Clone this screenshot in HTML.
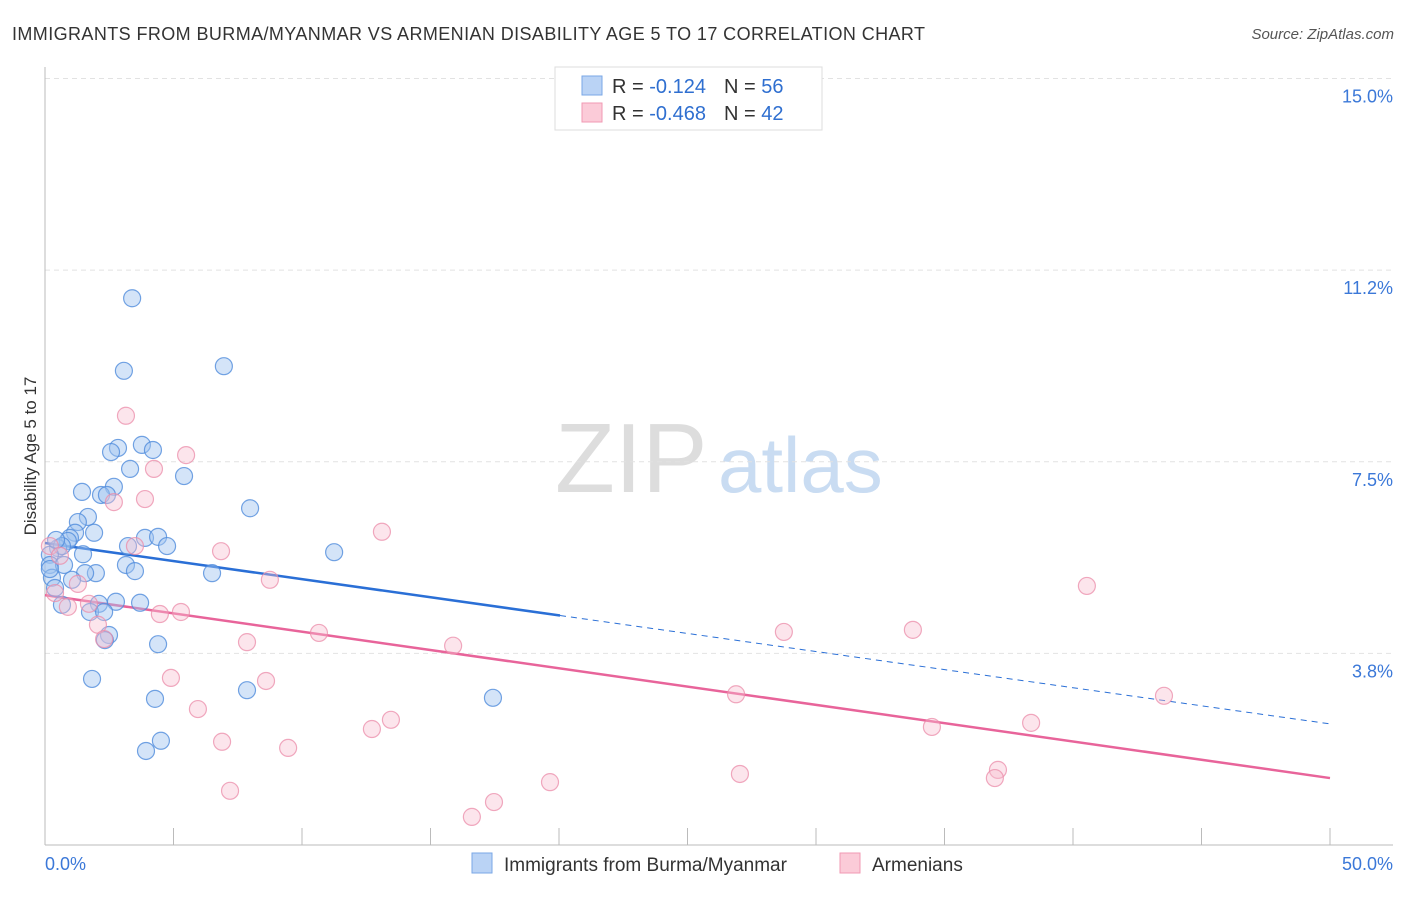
<!DOCTYPE html>
<html><head><meta charset="utf-8"><style>
body{margin:0;background:#fff;font-family:"Liberation Sans",sans-serif;}
svg text{font-family:"Liberation Sans",sans-serif;}
</style></head><body>
<svg id="chart" width="1406" height="892" viewBox="0 0 1406 892">
<text x="12" y="40" font-size="18" fill="#333" textLength="913" lengthAdjust="spacing">IMMIGRANTS FROM BURMA/MYANMAR VS ARMENIAN DISABILITY AGE 5 TO 17 CORRELATION CHART</text>
<text x="1394" y="39" font-size="15" fill="#555" font-style="italic" text-anchor="end">Source: ZipAtlas.com</text>
<text x="36" y="456" font-size="17" fill="#333" text-anchor="middle" transform="rotate(-90 36 456)">Disability Age 5 to 17</text>
<text x="555" y="492" font-size="98" fill="#ddd" font-family="Liberation Serif">ZIP</text>
<text x="718" y="492" font-size="78" fill="#c9dcf2">atlas</text>
<g id="grid"></g>
<g id="axes"></g>
<g id="trends"></g>
<g id="points"></g>
<g>
<rect x="555" y="67" width="267" height="63" fill="#fff" stroke="#ddd"/>
<rect x="582" y="76" width="20" height="19" fill="#bad3f5" stroke="#7aa7e6"/>
<rect x="582" y="103" width="20" height="19" fill="#fbcbd8" stroke="#f09ab3"/>
<text x="612" y="93" font-size="20" fill="#333">R = <tspan fill="#2f6fd0"> -0.124</tspan><tspan dx="18">N = </tspan><tspan fill="#2f6fd0">56</tspan></text>
<text x="612" y="120" font-size="20" fill="#333">R = <tspan fill="#2f6fd0">-0.468</tspan><tspan dx="18">N = </tspan><tspan fill="#2f6fd0">42</tspan></text>
</g>
<g>
<rect x="472" y="853" width="20" height="20" fill="#bad3f5" stroke="#7aa7e6"/>
<text x="504" y="871" font-size="19" fill="#333">Immigrants from Burma/Myanmar</text>
<rect x="840" y="853" width="20" height="20" fill="#fbcbd8" stroke="#f09ab3"/>
<text x="872" y="871" font-size="19" fill="#333">Armenians</text>
</g>
</svg>
<script>
const yTicks=[3.75,7.5,11.25,15];
const yTickLabels=["3.8%","7.5%","11.2%","15.0%"];
const xTickLabels=["0.0%","50.0%"];
const blueX=[3.39,3.07,6.96,3.77,2.84,2.57,4.20,3.31,5.41,2.68,1.44,2.18,2.41,7.98,1.67,1.28,1.17,0.97,0.89,1.91,3.89,4.40,4.75,3.23,0.51,0.66,1.48,11.25,0.19,0.19,0.74,3.15,3.50,1.98,1.56,6.50,0.27,1.05,0.39,0.66,2.10,2.76,3.70,1.75,2.30,2.49,2.33,4.40,1.83,7.86,4.28,17.43,4.51,3.93,0.19,0.43];
const blueY=[10.70,9.28,9.37,7.83,7.77,7.69,7.73,7.36,7.22,7.01,6.91,6.85,6.85,6.59,6.42,6.32,6.11,6.01,5.95,6.11,6.01,6.03,5.85,5.85,5.81,5.85,5.69,5.73,5.68,5.48,5.48,5.48,5.36,5.32,5.32,5.32,5.23,5.19,5.03,4.70,4.72,4.76,4.74,4.56,4.56,4.11,4.01,3.93,3.25,3.03,2.86,2.88,2.04,1.84,5.40,5.97];
const pinkX=[3.15,5.49,4.24,3.89,2.68,13.11,6.85,3.50,0.19,0.58,8.75,40.54,1.28,0.39,1.71,0.89,5.29,4.47,2.06,2.30,10.66,7.86,15.88,28.75,33.77,4.90,8.60,26.89,43.54,5.95,13.46,12.72,34.51,38.37,6.89,9.46,27.04,19.65,37.08,36.96,7.20,17.47,16.61];
const pinkY=[8.40,7.63,7.36,6.77,6.71,6.13,5.75,5.85,5.85,5.66,5.19,5.07,5.11,4.93,4.72,4.66,4.56,4.52,4.31,4.03,4.15,3.97,3.90,4.17,4.21,3.27,3.21,2.95,2.92,2.66,2.45,2.27,2.31,2.39,2.02,1.90,1.39,1.23,1.47,1.31,1.06,0.84,0.55];
const blueTrend=[5.91,2.37]; const blueSolidEnd=20.04;
const pinkTrend=[4.89,1.31];
const NS="http://www.w3.org/2000/svg";
const sx=v=>45+v*25.7, sy=v=>845-v*51.1;
function mk(tag,attrs,parent){const e=document.createElementNS(NS,tag);for(const k in attrs)e.setAttribute(k,attrs[k]);parent.appendChild(e);return e;}
const grid=document.getElementById('grid'),axes=document.getElementById('axes'),trends=document.getElementById('trends'),pts=document.getElementById('points');
yTicks.forEach((t,i)=>{
 const l=mk('line',{x1:45,x2:1393,y1:sy(t),y2:sy(t),stroke:'#e2e2e2','stroke-dasharray':'5,4'},grid);
 
 
 const tx=mk('text',{x:1393,y:sy(t)+24,'font-size':18,fill:'#3b78d8','text-anchor':'end'},grid);
 tx.textContent=yTickLabels[i];
 
 
});
const ya=mk('line',{x1:45,x2:45,y1:67,y2:845,stroke:'#bbb'},axes);


const xa=mk('line',{x1:45,x2:1393,y1:845,y2:845,stroke:'#bbb'},axes);


for(let i=0;i<=10;i++){
 const t=mk('line',{x1:sx(i*5),x2:sx(i*5),y1:828,y2:845,stroke:'#bbb'},axes);
 
 
}
[[0,'start',45],[50,'end',1393]].forEach((d,i)=>{
 const tx=mk('text',{x:d[2],y:870,'font-size':18,fill:'#3b78d8','text-anchor':d[1]},axes);
 tx.textContent=xTickLabels[i];
 
 
});
function draw(xs,ys,fill,stroke,name){
 xs.forEach((x,i)=>{
  const c=mk('circle',{cx:sx(x),cy:sy(ys[i]),r:8.5,fill:fill,stroke:stroke,'stroke-width':1.2},pts);
  
  
 });
}
draw(blueX,blueY,'rgba(160,195,240,0.45)','rgba(80,140,220,0.8)','burma-point');
draw(pinkX,pinkY,'rgba(248,190,208,0.4)','rgba(235,140,170,0.75)','armenian-point');
const by=x=>blueTrend[0]+(blueTrend[1]-blueTrend[0])*x/50;
const b1=mk('line',{x1:sx(0),y1:sy(by(0)),x2:sx(blueSolidEnd),y2:sy(by(blueSolidEnd)),stroke:'#2a6fd6','stroke-width':2.5},trends);


const b2=mk('line',{x1:sx(blueSolidEnd),y1:sy(by(blueSolidEnd)),x2:sx(50),y2:sy(by(50)),stroke:'#2a6fd6','stroke-width':1,'stroke-dasharray':'6,5'},trends);


const p1=mk('line',{x1:sx(0),y1:sy(pinkTrend[0]),x2:sx(50),y2:sy(pinkTrend[1]),stroke:'#e8649a','stroke-width':2.5},trends);


</script>
</body></html>
